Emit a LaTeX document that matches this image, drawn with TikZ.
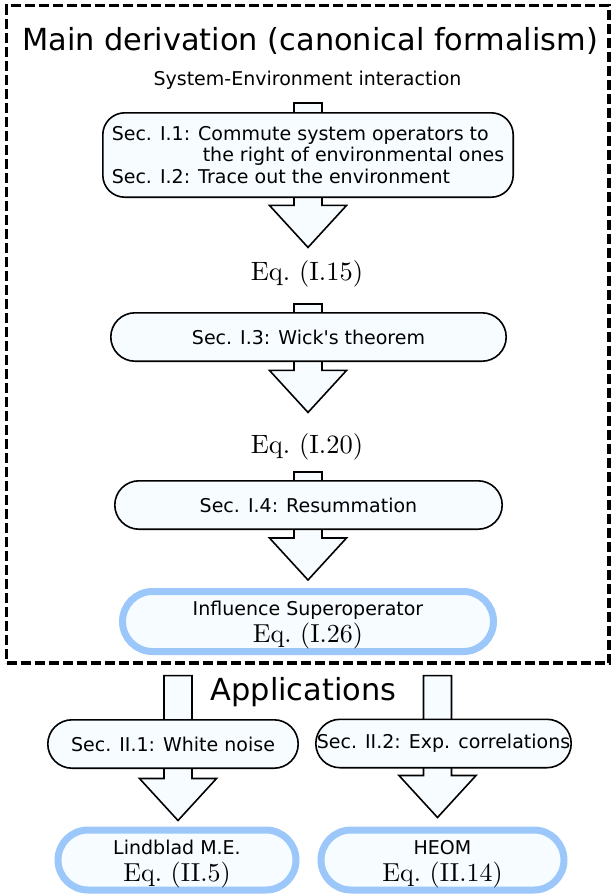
\documentclass[tikz,border=0pt]{standalone}
\usepackage{fontspec}
\setsansfont{DejaVu Sans}
\newfontfamily\eqfont{lmroman10-regular.otf}
\usetikzlibrary{calc,backgrounds}
\definecolor{boxfill}{RGB}{246,252,255}
\definecolor{resultblue}{RGB}{155,199,250}
\newcommand{\eqlbl}[1]{{\eqfont\fontsize{26}{24.5}\selectfont Eq.~(#1)}}
\newcommand{\flowarrow}[2]{%
  \draw[flow arrow] let \p1=(#1), \p2=(#2) in
   (\x2-14pt,\y1) -- (\x2-14pt,\y2+42pt) -- (\x2-38.5pt,\y2+42pt) -- (\x2,\y2)
   -- (\x2+38.5pt,\y2+42pt) -- (\x2+14pt,\y2+42pt) -- (\x2+14pt,\y1) -- cycle;
}

\begin{document}
\begin{tikzpicture}[
 x=1pt, y=-1pt,
 heading/.style={
  font=\sffamily\fontsize{30.4}{36}\selectfont,
  anchor=base,
  inner sep=0pt,
 },
 note/.style={
  font=\sffamily\fontsize{19}{21.5}\selectfont,
  anchor=base,
  inner sep=0pt,
 },
 sec/.style={
  draw=black,
  line width=1.6pt,
  fill=boxfill,
  rectangle,
  rounded corners=24.2pt,
  inner sep=0pt,
  minimum height=48.4pt,
  font=\sffamily\fontsize{19}{21.5}\selectfont,
 },
 result/.style={
  draw=resultblue,
  line width=7pt,
  fill=boxfill,
  rectangle,
  rounded corners=30pt,
  inner sep=0pt,
  minimum height=60pt,
  align=center,
  font=\sffamily\fontsize{19}{24.5}\selectfont,
 },
 eq/.style={
  font=\eqfont\fontsize{26.5}{30}\selectfont,
  anchor=base,
  inner sep=2pt,
 },
 flow arrow/.style={
  draw=black,
  line width=1.6pt,
  fill=boxfill,
  line join=miter,
 },
 frame/.style={
  draw=black,
  line width=3.2pt,
  dash pattern=on 10pt off 4pt,
  inner sep=0pt,
 }
]
\useasboundingbox (0,0) rectangle (611,895);

% main derivation
\node at (307.75,334.25) [frame, minimum width=602.5pt, minimum height=657.5pt] (main) {};
\node at (310,50) [heading] (maintitle) {Main derivation (canonical formalism)};
\node at (307.5,85) [note] (sysenv) {System-Environment interaction};

\node at (308,155) [sec, minimum width=410.4pt, minimum height=84.4pt, rounded corners=22pt, align=left] (sec12)
 {Sec. I.1: Commute system operators to\\\hspace*{91pt}the right of environmental ones\\Sec. I.2: Trace out the environment};
\node at (307,280) [eq] (eq15) {Eq.~(I.15)};
\node at (308.5,337) [sec, minimum width=395.4pt] (sec3) {Sec. I.3: Wick\textquotesingle s theorem};
\node at (307,453.5) [eq] (eq20) {Eq.~(I.20)};
\node at (308.5,505) [sec, minimum width=387.4pt] (sec4) {Sec. I.4: Resummation};
\node at (308,621.5) [result, minimum width=371pt] (influence) {\rule{0pt}{21pt}Influence Superoperator\\[3pt]\eqlbl{I.26}};

% applications
\node at (303.5,700) [heading] (apptitle) {Applications};
\node at (173,744) [sec, minimum width=250.4pt] (white) {Sec. II.1: White noise};
\node at (443.5,743.5) [sec, minimum width=255.4pt] (expcorr) {Sec. II.2: Exp. correlations};
\node at (177,860) [result, minimum width=238pt] (lindblad) {\rule{0pt}{22pt}Lindblad M.E.\\[3pt]\eqlbl{II.5}};
\node at (442.5,860) [result, minimum width=243pt] (heom) {\rule{0pt}{22pt}HEOM\\[3pt]\eqlbl{II.14}};

\begin{scope}[on background layer]
\flowarrow{$(sec12.north)+(0,-9)$}{$(eq15.north)+(1,-10.5)$}
\flowarrow{$(sec3.north)+(0,-8)$}{$(eq20.north)+(1,-19)$}
\flowarrow{$(sec4.north)+(0,-8)$}{$(influence.north)+(0,-8)$}
\flowarrow{$(main.south)+(0,11)$}{$(lindblad.north)+(1,-6)$}
\flowarrow{$(main.south)+(0,11)$}{$(heom.north)+(-5,-9)$}
\end{scope}
\end{tikzpicture}
\end{document}
